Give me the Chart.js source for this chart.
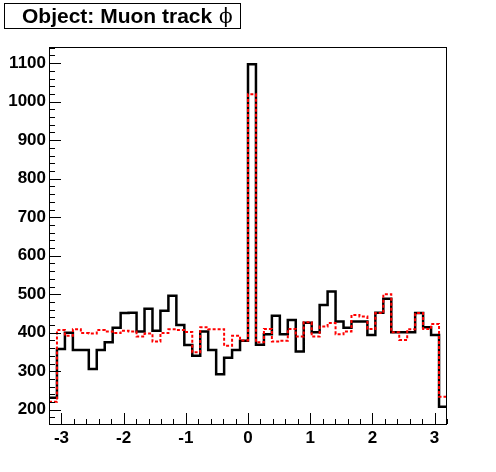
<!DOCTYPE html>
<html>
<head>
<meta charset="utf-8">
<script src="https://cdn.jsdelivr.net/npm/chart.js@4"></script>
<style>
  html, body { margin:0; padding:0; background:#fff; }
  #c { display:block; }
</style>
</head>
<body>
<canvas id="c" width="496" height="472"></canvas>
<script>
// histogram: 50 bins over [-3.2, 3.2]
const xMin = -3.2, xMax = 3.2, nBins = 50;
const yMin = 163, yMax = 1142;
const xTickValues = [-3, -2, -1, 0, 1, 2, 3];
const yTickValues = [200, 300, 400, 500, 600, 700, 800, 900, 1000, 1100];

// black solid histogram
const blackCounts = [231, 358, 400, 355, 355, 306, 355, 375, 413, 451,
  452, 403, 462, 405, 457, 496, 420, 368, 340, 403,
  355, 292, 335, 355, 379, 1097, 369, 396, 444, 396,
  433, 351, 426, 401, 472, 507, 429, 413, 429, 429,
  394, 452, 488, 401, 401, 401, 451, 414, 394, 208];

// red dashed histogram
const redCounts = [221, 407, 392, 409, 399, 398, 407, 403, 399, 405,
  403, 390, 398, 377, 399, 409, 407, 402, 349, 414,
  409, 409, 366, 392, 380, 1019, 375, 410, 377, 379,
  410, 390, 427, 390, 416, 425, 396, 403, 446, 442,
  410, 451, 500, 401, 381, 409, 451, 410, 423, 234];

function toSteps(counts){
  const w = (xMax - xMin) / nBins;
  const pts = counts.map((v,i)=> ({x: xMin + i*w, y: v}));
  pts.push({x: xMax, y: counts[counts.length-1]});
  return pts;
}

const titleText = 'Object: Muon track';

// frame, inward ticks and title box, ROOT style
const rootStyle = {
  id: 'rootStyle',
  afterDatasetsDraw(chart){
    const {ctx, chartArea: a, scales} = chart;
    ctx.save();
    ctx.strokeStyle = '#000';
    ctx.lineWidth = 1;
    ctx.strokeRect(a.left + 0.5, a.top + 0.5, a.right - a.left - 1, a.bottom - a.top);
    ctx.beginPath();
    // y ticks every 20, major every 100
    for(let v = Math.ceil(yMin/20)*20; v <= yMax; v += 20){
      const y = Math.round(scales.y.getPixelForValue(v)) + 0.5;
      const len = v % 100 === 0 ? 12 : 6;
      ctx.moveTo(a.left, y); ctx.lineTo(a.left + len, y);
    }
    // x ticks every 0.2, major every 1
    for(let k = -16; k <= 16; k++){
      const x = Math.round(scales.x.getPixelForValue(k/5)) + 0.5;
      const len = k % 5 === 0 ? 11 : 5;
      ctx.moveTo(x, a.bottom); ctx.lineTo(x, a.bottom - len);
    }
    ctx.stroke();

    // title box
    ctx.fillStyle = '#fff';
    ctx.fillRect(4, 3, 236, 25);
    ctx.strokeRect(4.5, 3.5, 236, 25);
    ctx.fillStyle = '#000';
    ctx.textBaseline = 'alphabetic';
    ctx.font = 'bold 21px "Liberation Sans", Arial, sans-serif';
    ctx.fillText(titleText, 22, 23);
    const tw = ctx.measureText(titleText + ' ').width;
    ctx.font = '20px "DejaVu Serif", "Liberation Serif", serif';
    ctx.fillText('ϕ', 23 + tw, 23);
    ctx.restore();
  }
};

const tickFont = { family: '"Liberation Sans", Arial, sans-serif', size: 17, weight: 'bold' };

new Chart(document.getElementById('c'), {
  type: 'line',
  data: {
    datasets: [
      { label: 'red', data: toSteps(redCounts), stepped: 'before', borderColor: '#ff0000',
        borderWidth: 2, borderDash: [3, 2], pointRadius: 0, fill: false, order: 0 },
      { label: 'black', data: toSteps(blackCounts), stepped: 'before', borderColor: '#000',
        borderWidth: 2.5, pointRadius: 0, fill: false, order: 1 }
    ]
  },
  options: {
    responsive: false,
    animation: false,
    events: [],
    layout: { padding: { top: 47, right: 49, left: 0, bottom: 0 } },
    plugins: { legend: { display: false }, tooltip: { enabled: false } },
    scales: {
      x: {
        type: 'linear', min: xMin, max: xMax,
        grid: { display: false, drawTicks: false },
        border: { display: false },
        afterBuildTicks: s => { s.ticks = xTickValues.map(v => ({value: v})); },
        afterFit: s => { s.height = 48; },
        ticks: { color: '#000', font: tickFont, padding: 4, maxRotation: 0, autoSkip: false,
                 callback: v => String(v) }
      },
      y: {
        type: 'linear', min: yMin, max: yMax,
        grid: { display: false, drawTicks: false },
        border: { display: false },
        afterBuildTicks: s => { s.ticks = yTickValues.map(v => ({value: v})); },
        afterFit: s => { s.width = 49; },
        ticks: { color: '#000', font: tickFont, padding: 3, autoSkip: false,
                 callback: v => String(v) }
      }
    }
  },
  plugins: [rootStyle]
});
</script>
</body>
</html>
